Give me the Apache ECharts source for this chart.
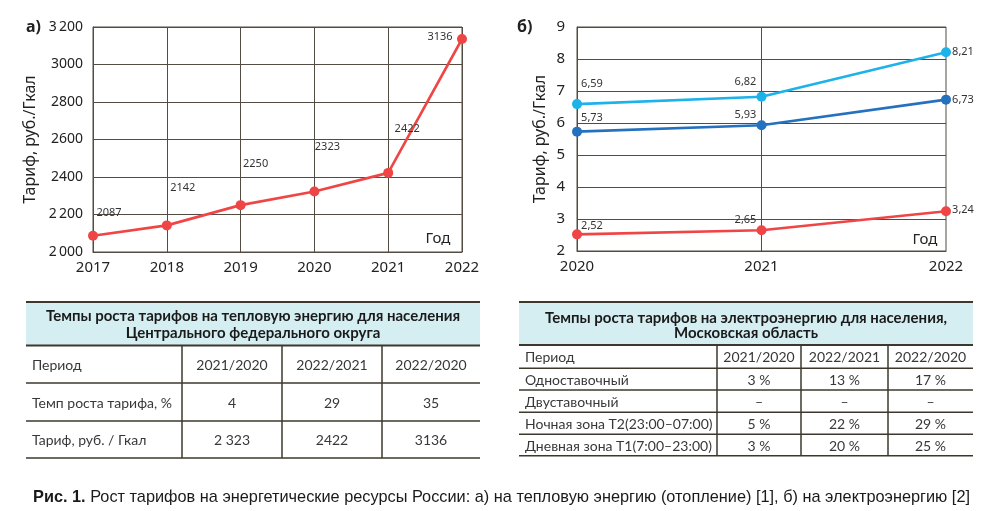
<!DOCTYPE html>
<html><head><meta charset="utf-8">
<script src="https://cdn.jsdelivr.net/npm/echarts@6/dist/echarts.min.js"></script>
<style>html,body{margin:0;padding:0;background:#fff}#c{width:1000px;height:511px}</style>
</head><body><div id="c"></div>
<script>
// ---------- DATA ----------
const heatYears = ['2017', '2018', '2019', '2020', '2021', '2022'];
const heatTariff = [2087, 2142, 2250, 2323, 2422, 3136];
const heatTickValues = [2000, 2200, 2400, 2600, 2800, 3000, 3200];
const heatTickLabels = ['2\u2009000', '2\u2009200', '2400', '2600', '2800', '3000', '3\u2009200'];

const elecYears = ['2020', '2021', '2022'];
const elecDayZone = [6.59, 6.82, 8.21];
const elecSingleRate = [5.73, 5.93, 6.73];
const elecNightZone = [2.52, 2.65, 3.24];

const heatTableTitle = ['Темпы роста тарифов на тепловую энергию для населения', 'Центрального федерального округа'];
const heatTableHead = ['Период', '2021/2020', '2022/2021', '2022/2020'];
const heatTableRows = [
  ['Темп роста тарифа, %', '4', '29', '35'],
  ['Тариф, руб. / Гкал', '2 323', '2422', '3136']
];
const elecTableTitle = ['Темпы роста тарифов на электроэнергию для населения,', 'Московская область'];
const elecTableHead = ['Период', '2021/2020', '2022/2021', '2022/2020'];
const elecTableRows = [
  ['Одноставочный', '3 %', '13 %', '17 %'],
  ['Двуставочный', '–', '–', '–'],
  ['Ночная зона Т2(23:00–07:00)', '5 %', '22 %', '29 %'],
  ['Дневная зона Т1(7:00–23:00)', '3 %', '20 %', '25 %']
];
const captionBold = 'Рис. 1.';
const captionText = ' Рост тарифов на энергетические ресурсы России: а) на тепловую энергию (отопление) [1], б) на электроэнергию [2]';

// ---------- STYLE / LAYOUT ----------
const FONT = 'Noto Sans';
const TFONT = 'Lato';
const RED = '#f04545', CYAN = '#1db2ea', BLUE = '#2472bf';
const GRIDC = '#524c42', TEXTC = '#222';
const heatLabelOffsets = [[16, -23], [16, -38], [15, -41], [13, -45], [19, -44], [-22, -2]];
const dayOffsets = [[15, -20], [-16, -15], [17, 0]];
const singleOffsets = [[15, -14], [-16, -10], [17, 0]];
const nightOffsets = [[15, -9], [-16, -10], [17, -1]];

function withLabels(values, offsets) {
  return values.map((v, i) => ({ value: v, label: { offset: offsets[i] } }));
}
function lineSeries(xi, values, offsets, color, fmt) {
  return {
    type: 'line', xAxisIndex: xi, yAxisIndex: xi,
    data: withLabels(values, offsets),
    symbol: 'circle', symbolSize: 10,
    lineStyle: { color, width: 2.6 }, itemStyle: { color },
    label: { show: true, position: 'inside', color: '#333', fontSize: 11, fontFamily: FONT, formatter: fmt },
    animation: false, z: 5
  };
}
const comma = p => p.value.toFixed(2).replace('.', ',');

function buildTable(t) {
  const els = [];
  const L = t.cols[0], R = t.cols[t.cols.length - 1];
  const top = t.top, hb = t.rows[0];
  els.push({ type: 'rect', shape: { x: L, y: top, width: R - L, height: hb - top }, style: { fill: '#d5eef2' }, silent: true });
  t.title.forEach((s, i) => els.push({ type: 'text', x: (L + R) / 2, y: t.titleY[i],
    style: { text: s, fontFamily: TFONT, fontWeight: 'bold', fontSize: 15, fill: '#1a1a1a', align: 'center', verticalAlign: 'middle' } }));
  const line = (x1, y1, x2, y2, w) => els.push({ type: 'line', shape: { x1, y1, x2, y2 }, style: { stroke: '#3d382e', lineWidth: w } });
  line(L, top, R, top, 2);
  t.rows.forEach((y, i) => line(L, y, R, y, i === 0 ? 2 : 1.5));
  for (let c = 1; c < t.cols.length - 1; c++) line(t.cols[c], hb, t.cols[c], t.rows[t.rows.length - 1], 1.5);
  const all = [t.head].concat(t.body);
  all.forEach((row, r) => {
    const yc = (t.rows[r] + t.rows[r + 1]) / 2;
    row.forEach((s, c) => {
      const first = c === 0;
      els.push({ type: 'text', x: first ? L + 6 : (t.cols[c] + t.cols[c + 1]) / 2, y: yc + 1,
        style: { text: s, fontFamily: TFONT, fontSize: t.fs, fill: '#383838', align: first ? 'left' : 'center', verticalAlign: 'middle' } });
    });
  });
  return els;
}

// caption width fit
const CAPFS = 17;
const cv = document.createElement('canvas').getContext('2d');
cv.font = 'bold ' + CAPFS + 'px "Liberation Sans"';
let cw = cv.measureText(captionBold).width;
cv.font = CAPFS + 'px "Liberation Sans"';
cw += cv.measureText(captionText).width;
const capScale = (970 - 33) / cw;

const graphics = [].concat(
  [
    { type: 'text', x: 26, y: 27, style: { text: 'а)', fontFamily: FONT, fontWeight: 'bold', fontSize: 16, fill: TEXTC, verticalAlign: 'middle' } },
    { type: 'text', x: 517, y: 27, style: { text: 'б)', fontFamily: FONT, fontWeight: 'bold', fontSize: 16, fill: TEXTC, verticalAlign: 'middle' } },
    { type: 'text', x: 438, y: 239, style: { text: 'Год', fontFamily: FONT, fontSize: 15, fill: TEXTC, align: 'center', verticalAlign: 'middle' } },
    { type: 'text', x: 925, y: 240, style: { text: 'Год', fontFamily: FONT, fontSize: 15, fill: TEXTC, align: 'center', verticalAlign: 'middle' } },
    { type: 'text', x: 33, y: 497, scaleX: capScale,
      style: { text: '{b|' + captionBold + '}' + captionText, fontFamily: 'Liberation Sans', fontSize: CAPFS, fill: '#1a1a1a', verticalAlign: 'middle',
        rich: { b: { fontFamily: 'Liberation Sans', fontWeight: 'bold', fontSize: CAPFS, fill: '#1a1a1a' } } } }
  ],
  buildTable({ cols: [26, 182, 282, 382, 480], top: 302, rows: [345.5, 383, 421, 458], titleY: [316, 333],
    title: heatTableTitle, head: heatTableHead, body: heatTableRows, fs: 14 }),
  buildTable({ cols: [519, 717, 801, 888, 973], top: 302, rows: [345, 368.3, 390, 412.3, 434.3, 455.7], titleY: [318, 333],
    title: elecTableTitle, head: elecTableHead, body: elecTableRows, fs: 14 })
);

const axisLabelStyle = { color: TEXTC, fontSize: 15, fontFamily: FONT };
const option = {
  animation: false,
  backgroundColor: '#fff',
  grid: [
    { left: 93, top: 27, width: 369, height: 225, show: true, borderColor: GRIDC, borderWidth: 1, containLabel: false },
    { left: 577, top: 27, width: 369, height: 224, show: true, borderColor: GRIDC, borderWidth: 1, containLabel: false }
  ],
  xAxis: [
    { type: 'category', gridIndex: 0, data: heatYears, boundaryGap: false,
      axisLine: { lineStyle: { color: GRIDC, width: 1 } }, axisTick: { show: false },
      axisLabel: Object.assign({ margin: 8 }, axisLabelStyle),
      splitLine: { show: true, lineStyle: { color: GRIDC, width: 1 } } },
    { type: 'category', gridIndex: 1, data: elecYears, boundaryGap: false,
      axisLine: { lineStyle: { color: GRIDC, width: 1 } }, axisTick: { show: false },
      axisLabel: Object.assign({ margin: 8 }, axisLabelStyle),
      splitLine: { show: true, interval: (i) => i === 1, lineStyle: { color: GRIDC, width: 1 } } }
  ],
  yAxis: [
    { type: 'value', gridIndex: 0, min: 2000, max: 3200, interval: 200,
      name: 'Тариф, руб./Гкал', nameLocation: 'middle', nameGap: 55, nameRotate: 90,
      nameTextStyle: { color: TEXTC, fontSize: 16, fontFamily: FONT },
      axisLine: { show: true, lineStyle: { color: GRIDC } }, axisTick: { show: false },
      axisLabel: Object.assign({}, axisLabelStyle, { margin: 10, fontSize: 14, formatter: v => heatTickLabels[heatTickValues.indexOf(v)] }),
      splitLine: { show: true, lineStyle: { color: GRIDC, width: 1 } } },
    { type: 'value', gridIndex: 1, min: 2, max: 9, interval: 1,
      name: 'Тариф, руб./Гкал', nameLocation: 'middle', nameGap: 29, nameRotate: 90,
      nameTextStyle: { color: TEXTC, fontSize: 16, fontFamily: FONT },
      axisLine: { show: true, lineStyle: { color: GRIDC } }, axisTick: { show: false },
      axisLabel: Object.assign({ margin: 12 }, axisLabelStyle),
      splitLine: { show: true, lineStyle: { color: GRIDC, width: 1 } } }
  ],
  series: [
    lineSeries(0, heatTariff, heatLabelOffsets, RED, p => String(p.value)),
    lineSeries(1, elecDayZone, dayOffsets, CYAN, comma),
    lineSeries(1, elecSingleRate, singleOffsets, BLUE, comma),
    lineSeries(1, elecNightZone, nightOffsets, RED, comma)
  ],
  graphic: graphics
};
const chart = echarts.init(document.getElementById('c'), null, { renderer: 'canvas' });
chart.setOption(option);
</script>
</body></html>
